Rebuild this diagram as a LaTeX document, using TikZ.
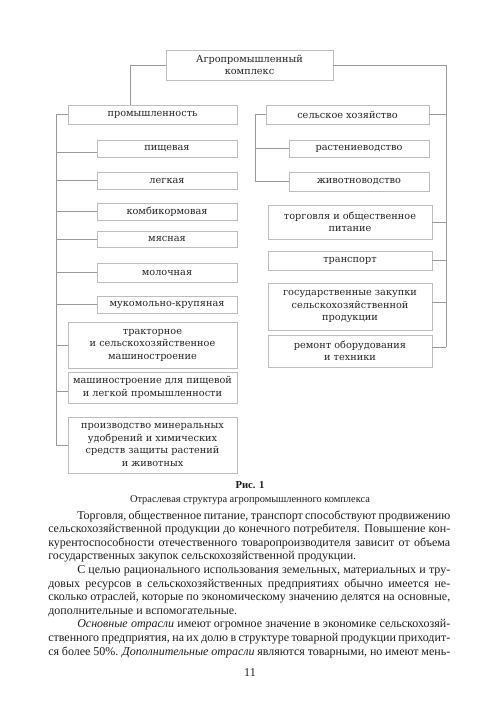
\documentclass[tikz,border=0pt]{standalone}
\usepackage{fontspec}
\setmainfont{Liberation Serif}
\newfontfamily\boxfont{DejaVu Serif}
\definecolor{boxline}{HTML}{BDBDBD}
\definecolor{connline}{HTML}{9A9A9A}
\definecolor{boxtext}{HTML}{262626}
\definecolor{bodytext}{HTML}{1E1E1E}
\begin{document}
\begin{tikzpicture}[x=0.75pt,y=-0.75pt,
  box/.style={draw=boxline, line width=0.6pt, inner sep=0pt, align=center, text=boxtext,
    font=\boxfont\fontsize{7.3pt}{9.4pt}\selectfont},
  rect/.style args={#1/#2/#3/#4}{at={({(#1+#3)/2},{(#2+#4)/2})},
    minimum width={(#3-#1)*0.75pt}, minimum height={(#4-#2)*0.75pt}},
  conn/.style={draw=connline, line width=0.6pt},
  bodyline/.style={anchor=base west, inner sep=0pt, text=bodytext,
    font=\fontsize{9pt}{10.2pt}\selectfont},
  captext/.style={anchor=base, inner sep=0pt, text=bodytext}]
\fill[white] (0,0) rectangle (500,708);
\useasboundingbox (0,0) rectangle (500,708);

% boxes
\node[box, rect=166/50/333/80] (top) {Агропромышленный\\комплекс};
\node[box, rect=68/105/237/124] (prom) {промышленность};
\node[box, rect=97/140/237/157] (pish) {пищевая};
\node[box, rect=97/172/237/189] (legk) {легкая};
\node[box, rect=97/203/237/220] (komb) {комбикормовая};
\node[box, rect=97/231/237/247] (myas) {мясная};
\node[box, rect=97/263/237/282] (moloch) {молочная};
\node[box, rect=97/296/237/313] (mukom) {мукомольно-крупяная};
\node[box, rect=68/322/237/368] (trakt) {тракторное\\и сельскохозяйственное\\машиностроение};
\node[box, rect=68/372/237/403] (mash) {машиностроение для пищевой\\и легкой промышленности};
\node[box, rect=68/417/237/473] (proizv) {производство минеральных\\удобрений и химических\\средств защиты растений\\и животных};

\node[box, rect=266/105/429/124] (selsk) {сельское хозяйство};
\node[box, rect=289/140/429/157] (rast) {растениеводство};
\node[box, rect=289/172/429/191] (zhiv) {животноводство};
\node[box, rect=268/205/432/239] (torg) {торговля и общественное\\питание};
\node[box, rect=268/251/432/270] (transp) {транспорт};
\node[box, rect=268/283/432/330] (gos) {государственные закупки\\сельскохозяйственной\\продукции};
\node[box, rect=268/335/432/367] (rem) {ремонт оборудования\\и техники};

% connector points
\coordinate (tl) at (130,65);
\coordinate (tr) at (446,65);
\coordinate (lv) at (56,115);
\coordinate (sv) at (255,115);
\coordinate (pishC) at ([yshift=-2.6pt]pish.west);
\coordinate (mashC) at ([yshift=-3pt]mash.west);
\coordinate (gosC) at ([yshift=3.4pt]gos.east);
\coordinate (remC) at ([yshift=3pt]rem.east);

\draw[conn] (top.west) -- (tl) -- (tl |- prom.north);
\draw[conn] (top.east) -- (tr) -- (tr |- remC);

\draw[conn] (prom.west) -- (prom.west -| lv) -- (lv |- proizv.west);
\draw[conn] (lv |- pishC) -- (pishC);
\draw[conn] (lv |- legk.west) -- (legk.west);
\draw[conn] (lv |- komb.west) -- (komb.west);
\draw[conn] (lv |- myas.west) -- (myas.west);
\draw[conn] (lv |- moloch.west) -- (moloch.west);
\draw[conn] (lv |- mukom.west) -- (mukom.west);
\draw[conn] (lv |- trakt.west) -- (trakt.west);
\draw[conn] (lv |- mashC) -- (mashC);
\draw[conn] (lv |- proizv.west) -- (proizv.west);

\draw[conn] (selsk.west) -- (selsk.west -| sv) -- (sv |- zhiv.west);
\draw[conn] (sv |- rast.west) -- (rast.west);
\draw[conn] (sv |- zhiv.west) -- (zhiv.west);

\draw[conn] (selsk.east) -- (selsk.east -| tr);
\draw[conn] (torg.east) -- (torg.east -| tr);
\draw[conn] (transp.east) -- (transp.east -| tr);
\draw[conn] (gosC) -- (gosC -| tr);
\draw[conn] (remC) -- (remC -| tr);

% caption
\node[captext, font=\bfseries\fontsize{8pt}{9pt}\selectfont] (fig) at (250,488) {Рис. 1};
\node[captext, font=\fontsize{7.8pt}{9pt}\selectfont] (cap) at (250,502) {Отраслевая структура агропромышленного комплекса};

% body text
\node[bodyline] (l1) at (77,519) {\makebox[279.75pt][s]{Торговля, общественное питание, транспорт способствуют продвижению}};
\node[bodyline] (l2) at (48,532.6) {\makebox[301.5pt][s]{сельскохозяйственной продукции до конечного потребителя. Повышение кон-}};
\node[bodyline] (l3) at (48,546.2) {\makebox[301.5pt][s]{курентоспособности отечественного товаропроизводителя зависит от объема}};
\node[bodyline] (l4) at (48,559.8) {государственных закупок сельскохозяйственной продукции.};
\node[bodyline] (l5) at (77,573.4) {\makebox[279.75pt][s]{С целью рационального использования земельных, материальных и тру-}};
\node[bodyline] (l6) at (48,587) {\makebox[301.5pt][s]{довых ресурсов в сельскохозяйственных предприятиях обычно имеется не-}};
\node[bodyline] (l7) at (48,600.6) {\makebox[301.5pt][s]{сколько отраслей, которые по экономическому значению делятся на основные,}};
\node[bodyline] (l8) at (48,614.2) {дополнительные и вспомогательные.};
\node[bodyline] (l9) at (77,627.8) {\makebox[279.75pt][s]{\textit{Основные отрасли} имеют огромное значение в экономике сельскохозяй-}};
\node[bodyline] (l10) at (48,641.4) {\makebox[301.5pt][s]{ственного предприятия, на их долю в структуре товарной продукции приходит-}};
\node[bodyline] (l11) at (48,655) {\makebox[301.5pt][s]{ся более 50\%. \textit{Дополнительные отрасли} являются товарными, но имеют мень-}};

\node[captext, font=\fontsize{9pt}{10pt}\selectfont] (pg) at (250,676) {11};
\end{tikzpicture}
\end{document}
